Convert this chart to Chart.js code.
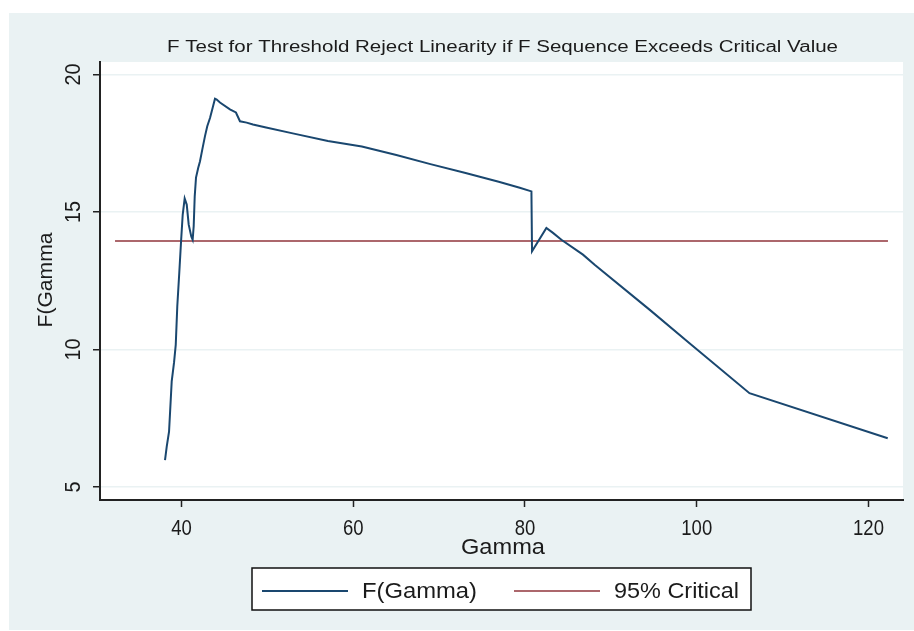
<!DOCTYPE html>
<html>
<head>
<meta charset="utf-8">
<title>F Test for Threshold</title>
<script src="https://cdn.jsdelivr.net/npm/chart.js@4/dist/chart.umd.min.js"></script>
<style>
  html, body { margin: 0; padding: 0; background: #ffffff; }
  #wrap { width: 914px; height: 631px; }
</style>
</head>
<body>
<div id="wrap"><canvas id="chart" width="914" height="631"></canvas></div>
<script>
// Threshold values (gamma) and the F statistic sequence F(gamma)
const gamma = [38.08, 38.28, 38.55, 38.86, 39.13, 39.33, 39.51, 39.74, 39.94, 40.14,
               40.37, 40.61, 40.84, 41.14, 41.30, 41.42, 41.54, 41.69, 41.95, 42.15,
               42.42, 42.73, 43.00, 43.32, 43.63, 43.90, 44.10, 44.48, 45.64, 46.34,
               46.81, 47.59, 48.32, 49.72, 53.09, 57.05, 61.00, 65.02, 68.99, 72.97,
               76.94, 79.39, 80.75, 80.82, 82.49, 83.26, 84.24, 86.75, 88.11, 94.50,
               99.16, 106.14, 122.24];
const fGamma = [5.98, 6.47, 7.01, 8.84, 9.52, 10.17, 11.57, 12.78, 13.88, 14.90,
                15.49, 15.27, 14.54, 14.11, 13.99, 14.48, 15.57, 16.25, 16.61, 16.84,
                17.27, 17.75, 18.12, 18.42, 18.79, 19.12, 19.09, 18.98, 18.73, 18.62,
                18.30, 18.25, 18.18, 18.08, 17.85, 17.58, 17.38, 17.07, 16.74, 16.43,
                16.10, 15.88, 15.75, 13.57, 14.42, 14.24, 13.99, 13.45, 13.08, 11.45,
                10.23, 8.41, 6.77];

// 95% critical value, drawn as a flat line across the gamma range
const criticalX = [32.26, 122.27];
const critical = [13.95, 13.95];

// Axis ticks
const xTicks = [40, 60, 80, 100, 120];
const yTicks = [5, 10, 15, 20];

const seriesNames = ['F(Gamma)', '95% Critical'];
const titleText = 'F Test for Threshold Reject Linearity if F Sequence Exceeds Critical Value';
const xTitle = 'Gamma';
const yTitle = 'F(Gamma';

const FONT = '"Liberation Sans", Arial, Helvetica, sans-serif';
const INK = '#1b1b1b';

// Draw text scaled to a given width; x,y is the centre of the baseline
function fitText(ctx, text, x, y, size, width, rot) {
  ctx.save();
  ctx.translate(x, y);
  if (rot) ctx.rotate(rot);
  ctx.font = size + 'px ' + FONT;
  const w = ctx.measureText(text).width;
  ctx.scale(width / w, 1);
  ctx.textAlign = 'center';
  ctx.textBaseline = 'alphabetic';
  ctx.fillStyle = INK;
  ctx.fillText(text, 0, 0);
  ctx.restore();
}

const backdrop = {
  id: 'backdrop',
  beforeDraw(chart) {
    const ctx = chart.ctx, a = chart.chartArea;
    ctx.save();
    ctx.fillStyle = '#ffffff';
    ctx.fillRect(0, 0, chart.width, chart.height);
    ctx.fillStyle = '#eaf2f3';
    ctx.fillRect(9, 13, chart.width - 9, chart.height - 14);
    ctx.fillStyle = '#ffffff';
    ctx.fillRect(a.left, a.top, a.right - a.left, a.bottom - a.top);
    ctx.restore();
  }
};

const labels = {
  id: 'labels',
  afterDraw(chart) {
    const ctx = chart.ctx;
    const xs = chart.scales.x, ys = chart.scales.y;
    // title
    fitText(ctx, titleText, 502.5, 52, 16, 671);
    // y tick labels, rotated
    yTicks.forEach(v => {
      const py = ys.getPixelForValue(v);
      fitText(ctx, String(v), 80, py, 22, 11 * String(v).length, -Math.PI / 2);
    });
    // x tick labels
    xTicks.forEach(v => {
      const px = xs.getPixelForValue(v);
      fitText(ctx, String(v), px, 535, 22, 10.3 * String(v).length);
    });
    // axis titles
    fitText(ctx, xTitle, 503, 554, 22, 84);
    fitText(ctx, yTitle, 52, 280, 21, 95, -Math.PI / 2);

    // legend
    const ds = chart.data.datasets;
    ctx.save();
    ctx.fillStyle = '#ffffff';
    ctx.fillRect(252, 568, 499, 42);
    ctx.strokeStyle = '#111111';
    ctx.lineWidth = 1.5;
    ctx.strokeRect(252, 568, 499, 42);
    ctx.lineWidth = 2;
    ctx.strokeStyle = ds[0].borderColor;
    ctx.beginPath(); ctx.moveTo(262, 591); ctx.lineTo(348, 591); ctx.stroke();
    ctx.lineWidth = 1.5;
    ctx.strokeStyle = ds[1].borderColor;
    ctx.beginPath(); ctx.moveTo(514, 591); ctx.lineTo(600, 591); ctx.stroke();
    ctx.restore();
    fitText(ctx, ds[0].label, 419.5, 598, 22, 115);
    fitText(ctx, ds[1].label, 676.5, 598, 22, 125);
  }
};

new Chart(document.getElementById('chart'), {
  type: 'scatter',
  data: {
    datasets: [
      {
        label: seriesNames[0],
        data: gamma.map((g, i) => ({ x: g, y: fGamma[i] })),
        showLine: true,
        borderColor: '#1a476f',
        borderWidth: 2,
        pointRadius: 0,
        tension: 0
      },
      {
        label: seriesNames[1],
        data: criticalX.map((g, i) => ({ x: g, y: critical[i] })),
        showLine: true,
        borderColor: '#90353b',
        borderWidth: 1.5,
        pointRadius: 0,
        tension: 0
      }
    ]
  },
  options: {
    responsive: false,
    animation: false,
    devicePixelRatio: 1,
    layout: { padding: { top: 62, right: 11, left: 0, bottom: 0 } },
    plugins: {
      legend: { display: false },
      title: { display: false },
      tooltip: { enabled: false }
    },
    scales: {
      x: {
        type: 'linear',
        min: 30.51,
        max: 124.02,
        afterBuildTicks: s => { s.ticks = xTicks.map(v => ({ value: v })); },
        afterFit: s => { s.height = 131; },
        ticks: { display: false },
        grid: { drawOnChartArea: false, drawTicks: true, tickLength: 7, tickColor: '#222222', tickWidth: 1.5 },
        border: { display: true, color: '#222222', width: 2 }
      },
      y: {
        type: 'linear',
        min: 4.527,
        max: 20.455,
        afterBuildTicks: s => { s.ticks = yTicks.map(v => ({ value: v })); },
        afterFit: s => { s.width = 100; },
        ticks: { display: false },
        grid: { color: '#eaf2f3', lineWidth: 1.5, drawTicks: true, tickLength: 7, tickColor: '#222222', tickWidth: 1.5 },
        border: { display: true, color: '#222222', width: 2 }
      }
    }
  },
  plugins: [backdrop, labels]
});
</script>
</body>
</html>
